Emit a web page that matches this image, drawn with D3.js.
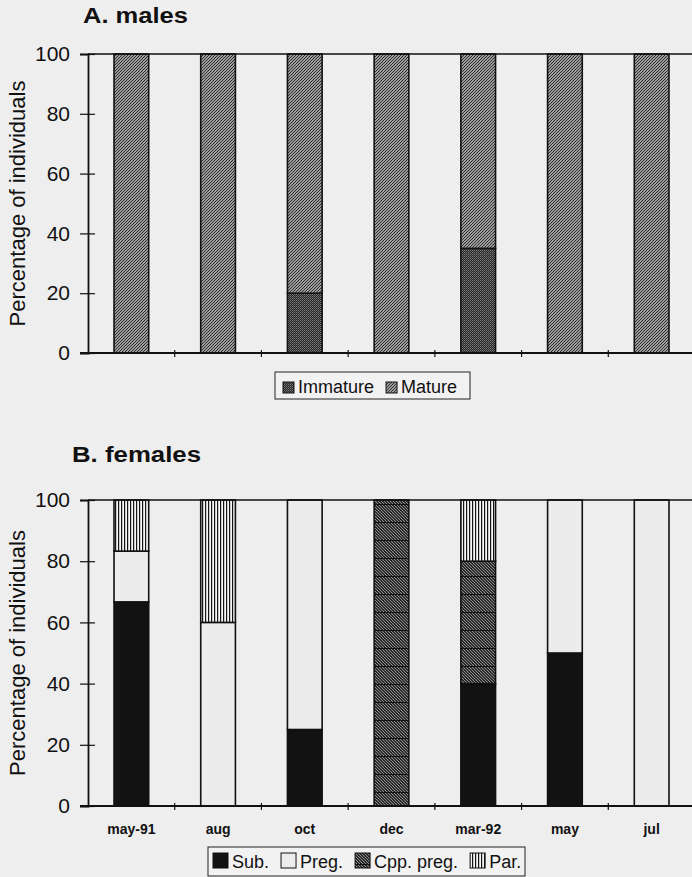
<!DOCTYPE html>
<html>
<head>
<meta charset="utf-8">
<script src="https://cdn.jsdelivr.net/npm/d3@7"></script>
<style>
  html, body { margin: 0; padding: 0; background: #efeeee; }
  svg { display: block; font-family: "Liberation Sans", Arial, sans-serif; }
</style>
</head>
<body>
<svg id="chart" width="692" height="877"></svg>
<script>
// ---- data ----
const categories = ["may-91", "aug", "oct", "dec", "mar-92", "may", "jul"];
const maleImmature = [0, 0, 20, 0, 35, 0, 0];
const maleMature   = [100, 100, 80, 100, 65, 100, 100];
const femSub  = [66.7, 0, 25, 0, 40, 50, 0];
const femPreg = [16.6, 60, 75, 0, 0, 50, 100];
const femCpp  = [0, 0, 0, 100, 40, 0, 0];
const femPar  = [16.7, 40, 0, 0, 20, 0, 0];
const yTicks = [0, 20, 40, 60, 80, 100];
const maleKeys = ["Immature", "Mature"];
const femaleKeys = ["Sub.", "Preg.", "Cpp. preg.", "Par."];
const titles = ["A. males", "B. females"];
const yLabel = "Percentage of individuals";

const svg = d3.select("#chart");
const defs = svg.append("defs");

// patterns
function pat(id, w, h, bg, draw) {
  const p = defs.append("pattern").attr("id", id).attr("patternUnits", "userSpaceOnUse")
    .attr("width", w).attr("height", h);
  p.append("rect").attr("width", w).attr("height", h).attr("fill", bg);
  draw(p);
}
pat("p-mature", 3, 3, "#cfcfcf", p => p.append("path")
  .attr("d", "M0,3 L3,0 M-1,1 L1,-1 M2,4 L4,2").attr("stroke", "#2a2a2a").attr("stroke-width", 1.2));
pat("p-immature", 2, 2, "#2a2a2a", p => {
  p.append("rect").attr("x", 0).attr("y", 0).attr("width", 1).attr("height", 1).attr("fill", "#7a7a7a");
  p.append("rect").attr("x", 1).attr("y", 1).attr("width", 1).attr("height", 1).attr("fill", "#5a5a5a");
});
pat("p-cpp", 3, 18, "#2a2a2a", p => {
  p.append("path").attr("d", "M0,0 L3,3 M0,3 L3,6 M0,6 L3,9 M0,9 L3,12 M0,12 L3,15 M0,15 L3,18")
    .attr("stroke", "#9a9a9a").attr("stroke-width", 0.9);
  p.append("rect").attr("x", 0).attr("y", 0).attr("width", 3).attr("height", 1).attr("fill", "#111");
});
pat("p-par", 3, 3, "#f6f6f6", p => p.append("rect").attr("x", 1).attr("y", 0).attr("width", 1.2).attr("height", 3).attr("fill", "#151515"));

const fills = {
  "Immature": "url(#p-immature)", "Mature": "url(#p-mature)",
  "Sub.": "#121212", "Preg.": "#ececec", "Cpp. preg.": "url(#p-cpp)", "Par.": "url(#p-par)"
};

const left = 88, right = 695;
const x = d3.scaleBand().domain(categories).range([left, right]).paddingInner(0.6).paddingOuter(0.3);
const step = x.step();

const panels = [
  { title: titles[0], tx: 83, ty: 23, tlen: 105, top: 54, bottom: 353, keys: maleKeys,
    series: [maleImmature, maleMature], labels: false,
    legend: { x0: 275, y0: 372, x1: 470, y1: 399, sw: 11, start: 283, ty: 393 } },
  { title: titles[1], tx: 72, ty: 462, tlen: 129, top: 500, bottom: 806, keys: femaleKeys,
    series: [femSub, femPreg, femCpp, femPar], labels: true,
    legend: { x0: 208, y0: 847, x1: 525, y1: 876, sw: 15, start: 213, ty: 868 } }
];

panels.forEach(P => {
  const g = svg.append("g");
  const y = d3.scaleLinear().domain([0, 100]).range([P.bottom, P.top]);

  // title
  g.append("text").attr("x", P.tx).attr("y", P.ty).text(P.title)
    .attr("font-size", 22).attr("font-weight", "bold").attr("fill", "#111")
    .attr("textLength", P.tlen).attr("lengthAdjust", "spacingAndGlyphs");

  // y label
  g.append("text").attr("transform", `translate(25,${(P.top + P.bottom) / 2}) rotate(-90)`)
    .attr("text-anchor", "middle").attr("font-size", 22).attr("fill", "#111").text(yLabel);

  // stacked bars
  const rows = categories.map((c, i) => {
    const o = { cat: c };
    P.keys.forEach((k, j) => o[k] = P.series[j][i]);
    return o;
  });
  const stacked = d3.stack().keys(P.keys)(rows);
  stacked.forEach(layer => {
    g.append("g").selectAll("rect").data(layer.filter(d => d[1] - d[0] > 0)).join("rect")
      .attr("x", d => x(d.data.cat)).attr("width", x.bandwidth())
      .attr("y", d => y(d[1])).attr("height", d => y(d[0]) - y(d[1]))
      .attr("fill", fills[layer.key]).attr("stroke", "#111").attr("stroke-width", 1.6);
  });

  // frame
  g.append("line").attr("x1", left).attr("x2", right).attr("y1", P.top).attr("y2", P.top)
    .attr("stroke", "#111").attr("stroke-width", 1.6);
  g.append("line").attr("x1", right).attr("x2", right).attr("y1", P.top).attr("y2", P.bottom)
    .attr("stroke", "#111").attr("stroke-width", 1.6);

  // y axis
  const ya = g.append("g").attr("transform", `translate(${left},0)`)
    .call(d3.axisLeft(y).tickValues(yTicks).tickSize(8).tickPadding(10));
  ya.select(".domain").attr("stroke", "#111").attr("stroke-width", 1.8);
  ya.selectAll(".tick line").attr("x1", 7).attr("x2", -8).attr("stroke", "#111").attr("stroke-width", 1.2);
  ya.selectAll(".tick text").attr("font-size", 21).attr("fill", "#111")
    .attr("font-family", '"Liberation Sans", Arial, sans-serif');

  // x axis baseline
  g.append("line").attr("x1", left - 8).attr("x2", right).attr("y1", P.bottom).attr("y2", P.bottom)
    .attr("stroke", "#111").attr("stroke-width", 1.8);
  // x ticks at category boundaries
  g.append("g").selectAll("line").data(categories.slice(1)).join("line")
    .attr("x1", d => x(d) - (step - x.bandwidth()) / 2).attr("x2", d => x(d) - (step - x.bandwidth()) / 2)
    .attr("y1", P.bottom - 3).attr("y2", P.bottom + 4).attr("stroke", "#111").attr("stroke-width", 1.2);

  if (P.labels) {
    g.append("g").selectAll("text").data(categories).join("text")
      .attr("x", d => x(d) + x.bandwidth() / 2).attr("y", P.bottom + 28)
      .attr("text-anchor", "middle").attr("font-size", 14).attr("font-weight", "bold")
      .attr("fill", "#111").text(d => d);
  }

  // legend
  const L = P.legend;
  g.append("rect").attr("x", L.x0).attr("y", L.y0).attr("width", L.x1 - L.x0).attr("height", L.y1 - L.y0)
    .attr("fill", "#f3f2f2").attr("stroke", "#222").attr("stroke-width", 1);
  let cx = L.start;
  P.keys.forEach(k => {
    g.append("rect").attr("x", cx).attr("y", L.ty - L.sw).attr("width", L.sw).attr("height", L.sw)
      .attr("fill", fills[k]).attr("stroke", "#111").attr("stroke-width", 1);
    const t = g.append("text").attr("x", cx + L.sw + 4).attr("y", L.ty)
      .attr("font-size", 18).attr("fill", "#111").text(k);
    cx = cx + L.sw + 4 + t.node().getComputedTextLength() + 12;
  });
});
</script>
</body>
</html>
